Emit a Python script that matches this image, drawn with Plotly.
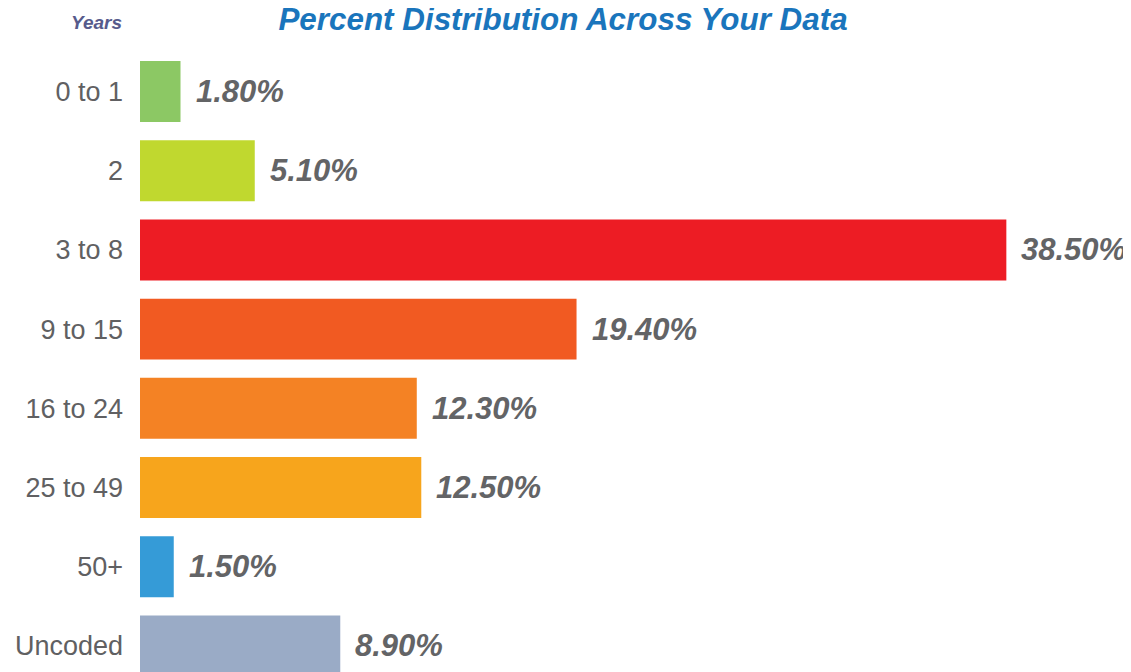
import plotly.graph_objects as go

# data
categories = ["0 to 1", "2", "3 to 8", "9 to 15", "16 to 24", "25 to 49", "50+", "Uncoded"]
percents = [1.8, 5.1, 38.5, 19.4, 12.3, 12.5, 1.5, 8.9]
bar_colors = ["#8cc864", "#c0d82f", "#ed1c24", "#f15a22", "#f48224", "#f7a51c", "#359bd7", "#9aabc6"]

# page body has an 8px margin, so the figure is 8px smaller than the window
W, H = 1123, 664

fig = go.Figure()
fig.add_trace(go.Bar(
  y=categories,
  x=percents,
  orientation="h",
  marker=dict(color=bar_colors, line=dict(width=0)),
  hoverinfo="skip",
))

# value labels to the right of each bar (y by index, "2" would be read as a number)
annotations = []
for i, val in enumerate(percents):
  annotations.append(dict(
    x=val, y=i, xref="x", yref="y",
    text="%.2f%%" % val,
    showarrow=False,
    xanchor="left", yanchor="middle",
    xshift=13,
    font=dict(family="Liberation Sans", size=31, color="#636466", weight="bold", style="italic"),
  ))

# "Years" header above the category labels
annotations.append(dict(
  x=-16 / 991, y=1 + (44 - 14) / 620, xref="paper", yref="paper",
  text="Years", showarrow=False,
  xanchor="right", yanchor="middle",
  font=dict(family="Liberation Sans", size=19, color="#575b8c", weight="bold", style="italic"),
))

fig.update_layout(
  width=W,
  height=H,
  margin=dict(l=132, r=0, t=44, b=0, pad=0, autoexpand=False),
  paper_bgcolor="white",
  plot_bgcolor="white",
  showlegend=False,
  bargap=0.23,
  title=dict(
    text="Percent Distribution Across Your Data",
    x=555 / W, xanchor="center",
    y=1, yanchor="top",
    yref="container", xref="container",
    pad=dict(t=0, b=0),
    font=dict(family="Liberation Sans", size=31.4, color="#1a75bc", weight="bold", style="italic"),
  ),
  annotations=annotations,
)

fig.update_xaxes(range=[0, 44.04], visible=False, automargin=False)
fig.update_yaxes(
  type="category",
  automargin=False,
  range=[7.33, -0.5],
  showgrid=False, zeroline=False, showline=False,
  ticks="", ticklabelstandoff=16,
  tickfont=dict(family="Liberation Sans", size=27, color="#606062"),
)

fig.write_html("out.html")
